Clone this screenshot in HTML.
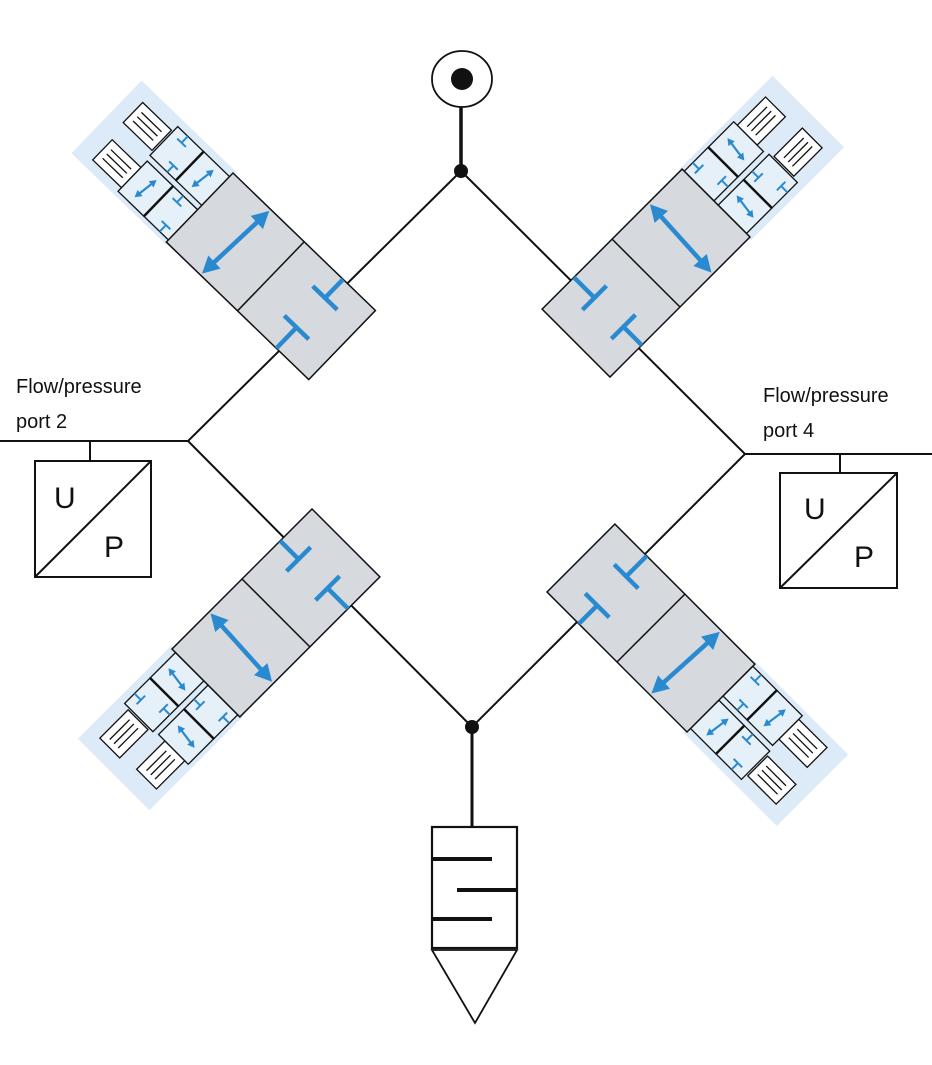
<!DOCTYPE html>
<html><head><meta charset="utf-8"><style>
html,body{margin:0;padding:0;background:#fff;}
svg{display:block;}
text{font-family:"Liberation Sans","DejaVu Sans",sans-serif;fill:#111;}
</style></head><body>
<svg width="932" height="1065" viewBox="0 0 932 1065" xmlns="http://www.w3.org/2000/svg">
<defs>
<g id="sarrow">
  <line x1="0" y1="-10" x2="0" y2="10" stroke="#2a8ad0" stroke-width="2.2"/>
  <polygon points="0,-14 -4,-7 4,-7" fill="#2a8ad0"/>
  <polygon points="0,14 -4,7 4,7" fill="#2a8ad0"/>
</g>
<g id="sT">
  <line x1="0" y1="0" x2="0" y2="9" stroke="#2a8ad0" stroke-width="2"/>
  <line x1="-6" y1="9" x2="6" y2="9" stroke="#2a8ad0" stroke-width="2"/>
</g>
<g id="sol">
  <rect x="0" y="0" width="40" height="28" fill="#fff" stroke="#111" stroke-width="1.3"/>
  <line x1="6" y1="8" x2="34" y2="8" stroke="#111" stroke-width="1.3"/>
  <line x1="6" y1="14" x2="34" y2="14" stroke="#111" stroke-width="1.3"/>
  <line x1="6" y1="20" x2="34" y2="20" stroke="#111" stroke-width="1.3"/>
</g>
<g id="valve">
  <rect x="-130" y="-3" width="132" height="101" fill="#dcebf7"/>
  <use href="#sol" transform="translate(-114,12)"/>
  <use href="#sol" transform="translate(-110,60)"/>
  <rect x="-72" y="5" width="36" height="40" fill="#e6f0f9" stroke="#111" stroke-width="1.3"/>
  <rect x="-36" y="5" width="36" height="40" fill="#e6f0f9" stroke="#111" stroke-width="1.3"/>
  <line x1="-36" y1="5" x2="-36" y2="45" stroke="#111" stroke-width="2.5"/>
  <use href="#sarrow" transform="translate(-18,25) rotate(8)"/>
  <use href="#sT" transform="translate(-58,5)"/>
  <use href="#sT" transform="translate(-48,45) rotate(180)"/>
  <rect x="-70" y="51" width="36" height="42" fill="#e6f0f9" stroke="#111" stroke-width="1.3"/>
  <rect x="-34" y="51" width="34" height="42" fill="#e6f0f9" stroke="#111" stroke-width="1.3"/>
  <line x1="-34" y1="51" x2="-34" y2="93" stroke="#111" stroke-width="2.5"/>
  <use href="#sarrow" transform="translate(-52,72) rotate(8)"/>
  <use href="#sT" transform="translate(-20,51)"/>
  <use href="#sT" transform="translate(-12,93) rotate(180)"/>
  <rect x="0" y="0" width="198" height="96" fill="#d6d9de" stroke="#111" stroke-width="1.5"/>
  <line x1="99" y1="0" x2="99" y2="96" stroke="#111" stroke-width="1.5"/>
  <g transform="rotate(3,50,48)">
    <line x1="50" y1="14" x2="50" y2="82" stroke="#2a8ad0" stroke-width="4.5"/>
    <polygon points="50,2 41,19 59,19" fill="#2a8ad0"/>
    <polygon points="50,94 41,77 59,77" fill="#2a8ad0"/>
  </g>
  <line x1="153" y1="96" x2="153" y2="67" stroke="#2a8ad0" stroke-width="4.5"/>
  <line x1="136" y1="67" x2="170" y2="67" stroke="#2a8ad0" stroke-width="4.5"/>
  <line x1="153" y1="0" x2="153" y2="26" stroke="#2a8ad0" stroke-width="4.5"/>
  <line x1="136" y1="26" x2="170" y2="26" stroke="#2a8ad0" stroke-width="4.5"/>
</g>
</defs>

<g stroke="#111" stroke-width="2" fill="none">
  <polyline points="461,171 188,441 472,727 745,454 461,171"/>
  <line x1="0" y1="441" x2="188" y2="441"/>
  <line x1="745" y1="454" x2="932" y2="454"/>
  <line x1="90" y1="441" x2="90" y2="461"/>
  <line x1="840" y1="454" x2="840" y2="473"/>
</g>

<use href="#valve" transform="translate(233,173) rotate(44)"/>
<use href="#valve" transform="translate(750,237) rotate(135)"/>
<use href="#valve" transform="translate(172,649) rotate(-45)"/>
<use href="#valve" transform="translate(687,732) rotate(225)"/>

<line x1="461" y1="107" x2="461" y2="171" stroke="#111" stroke-width="3.5"/>
<ellipse cx="462" cy="79" rx="30" ry="28" fill="#fff" stroke="#111" stroke-width="1.8"/>
<circle cx="462" cy="79" r="11" fill="#111"/>
<circle cx="461" cy="171" r="7" fill="#111"/>

<circle cx="472" cy="727" r="7" fill="#111"/>
<line x1="472" y1="727" x2="472" y2="827" stroke="#111" stroke-width="3"/>
<rect x="432" y="827" width="85" height="121" fill="#fff" stroke="#111" stroke-width="2.2"/>
<line x1="432" y1="859" x2="492" y2="859" stroke="#111" stroke-width="4"/>
<line x1="457" y1="890" x2="517" y2="890" stroke="#111" stroke-width="4"/>
<line x1="432" y1="919" x2="492" y2="919" stroke="#111" stroke-width="4"/>
<polygon points="432,950 517,950 475,1023" fill="#fff" stroke="#111" stroke-width="1.8"/>

<rect x="35" y="461" width="116" height="116" fill="#fff" stroke="#111" stroke-width="2"/>
<line x1="35" y1="577" x2="151" y2="461" stroke="#111" stroke-width="2"/>
<text x="54" y="508" font-size="30">U</text>
<text x="104" y="557" font-size="30">P</text>
<rect x="780" y="473" width="117" height="115" fill="#fff" stroke="#111" stroke-width="2"/>
<line x1="780" y1="588" x2="897" y2="473" stroke="#111" stroke-width="2"/>
<text x="804" y="519" font-size="30">U</text>
<text x="854" y="567" font-size="30">P</text>

<text x="16" y="393" font-size="20">Flow/pressure</text>
<text x="16" y="428" font-size="20">port 2</text>
<text x="763" y="402" font-size="20">Flow/pressure</text>
<text x="763" y="437" font-size="20">port 4</text>
</svg>
</body></html>
